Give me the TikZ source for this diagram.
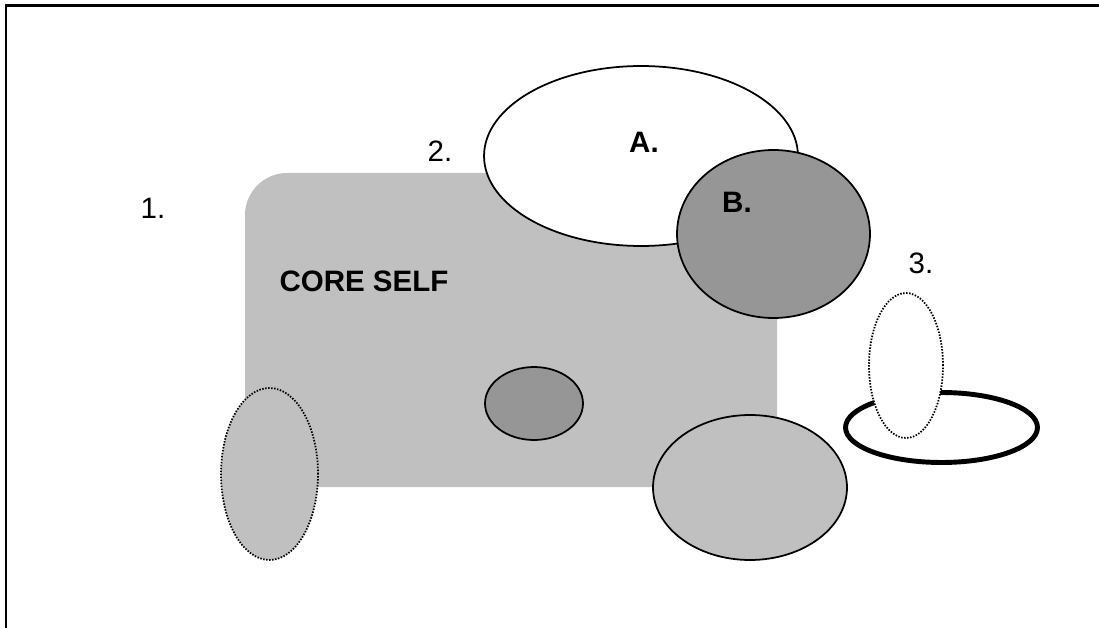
\documentclass[tikz,border=0pt]{standalone}
\usepackage{fontspec}
\setmainfont{Liberation Sans}
\definecolor{lightgrey}{HTML}{C0C0C0}
\definecolor{darkgrey}{HTML}{969696}
\tikzset{
  lbl/.style={inner sep=0pt,font=\fontsize{16.8}{20}\selectfont},
  blbl/.style={lbl,font=\fontsize{16.8}{20}\selectfont\bfseries},
  blob/.style={draw=black,line width=1pt},
  dots/.style={draw=black,line width=1pt,dash pattern=on 0.85pt off 0.85pt}
}
\begin{document}
\begin{tikzpicture}[x=0.02cm,y=-0.02cm]
  \useasboundingbox (0,0) rectangle (1099,628);
  % frame, open at right and bottom
  \draw[line width=0.06cm] (6,640) -- (6,6) -- (1110,6);
  % core self, only the top left corner is rounded
  \fill[lightgrey] (245,487) -- (245,215) .. controls (245,192) and (264,173) .. (287,173)
    -- (777,173) -- (777,487) -- cycle;
  \draw[dots,fill=lightgrey] (269.5,474) ellipse [x radius=0.97cm,y radius=1.72cm];
  \draw[blob,fill=darkgrey] (534,403.5) ellipse [x radius=0.98cm,y radius=0.73cm];
  \draw[blob,fill=lightgrey] (750,487.5) ellipse [x radius=1.94cm,y radius=1.45cm];
  \draw[blob,fill=white] (641,156) ellipse [x radius=3.14cm,y radius=1.80cm];
  \draw[blob,fill=darkgrey] (773.5,234) ellipse [x radius=1.93cm,y radius=1.68cm];
  % ring with the upright dotted one standing in it
  \draw[line width=2.8pt] (941.5,427.5) ellipse [x radius=1.92cm,y radius=0.70cm];
  \draw[dots,fill=white] (906,365.5) ellipse [x radius=0.74cm,y radius=1.45cm];
  % labels
  \node[lbl] (one) at (153,208) {1.};
  \node[lbl] (two) at (440,151) {2.};
  \node[lbl] (three) at (921,263) {3.};
  \node[blbl] (a) at (644,142) {A.};
  \node[blbl] (b) at (737,202) {B.};
  \node[blbl] (core) at (364,281) {CORE SELF};
\end{tikzpicture}
\end{document}
